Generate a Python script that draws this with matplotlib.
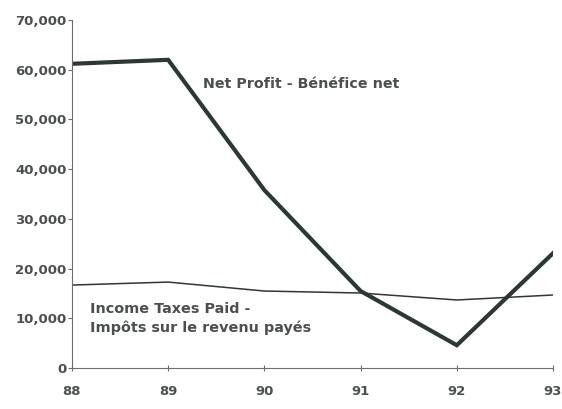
import matplotlib
matplotlib.use('Agg')
import matplotlib.pyplot as plt
from matplotlib.ticker import FuncFormatter

# data
years = [88, 89, 90, 91, 92, 93]
net_profit = [61200, 62000, 35800, 15500, 4600, 23100]
taxes_paid = [16700, 17300, 15500, 15100, 13700, 14700]
x_labels = ['88', '89', '90', '91', '92', '93']
y_ticks = [0, 10000, 20000, 30000, 40000, 50000, 60000, 70000]

line_col = '#2e3833'
text_col = '#4b504d'

plt.rcParams['font.family'] = 'DejaVu Sans'
plt.rcParams['font.weight'] = 'bold'

fig = plt.figure(figsize=(5.62, 4.09), dpi=100)
ax = fig.add_axes([0.128, 0.100, 0.856, 0.851])

ax.plot(years, net_profit, color=line_col, lw=3.0, solid_joinstyle='miter')
ax.plot(years, taxes_paid, color=line_col, lw=1.1)

ax.set_xlim(88, 93)
ax.set_ylim(0, 70000)
ax.set_xticks(years)
ax.set_xticklabels(x_labels)
ax.set_yticks(y_ticks)
ax.yaxis.set_major_formatter(FuncFormatter(lambda v, p: f'{int(v):,}'))

for s in ['top', 'right']:
    ax.spines[s].set_visible(False)
for s in ['left', 'bottom']:
    ax.spines[s].set_color('#6a6f6c')
    ax.spines[s].set_linewidth(0.8)

ax.tick_params(axis='y', direction='out', length=3, width=0.8, color='#6a6f6c',
               labelsize=9.5, labelcolor=text_col, pad=1)
ax.tick_params(axis='x', direction='inout', length=5, width=0.8, color='#6a6f6c',
               labelsize=9.5, labelcolor=text_col, pad=10)

ax.text(89.36, 57100, 'Net Profit - Bénéfice net', fontsize=10.3,
        color=text_col, va='center', ha='left')
ax.text(88.19, 10000, 'Income Taxes Paid -\nImpôts sur le revenu payés',
        fontsize=10.4, color=text_col, va='center', ha='left', linespacing=1.35)

plt.savefig('out.png', dpi=100, facecolor='white')
